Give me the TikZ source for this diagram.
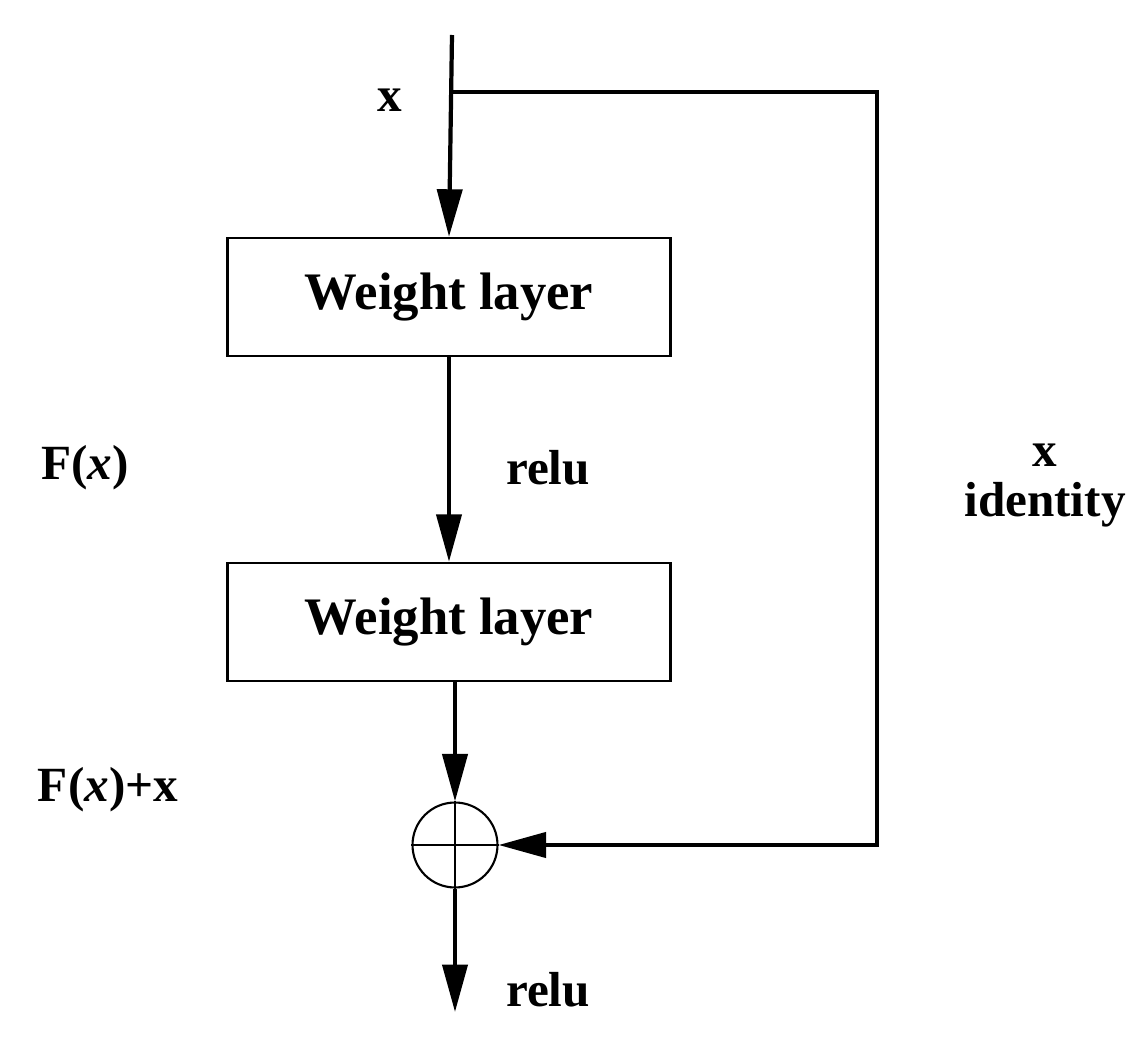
\documentclass[tikz,border=0pt]{standalone}
\usepackage{fontspec}
\setmainfont{Liberation Serif}
\usetikzlibrary{arrows.meta}
\begin{document}
\begin{tikzpicture}[x=0.02cm,y=-0.02cm,
        flow/.style={
            -{Triangle[length=0.95cm,width=0.5cm]},
            line width=2.4pt
        },
        layer/.style={
            draw,
            line width=1.4pt,
            minimum width=8.86cm,
            minimum height=2.36cm,
            font=\fontsize{30}{36}\selectfont\bfseries
        },
        lbl/.style={
            font=\fontsize{28}{34}\selectfont\bfseries
        }
    ]
        \useasboundingbox (0,0) rectangle (1134,1044);
        % Layers
        \node[layer] (wone) at (449,297) {Weight layer};
        \node[layer] (wtwo) at (449,622) {Weight layer};
        \node[circle, draw, line width=1.2pt, minimum size=1.7cm, inner sep=0pt] (sum) at (455,845) {};
        \draw[line width=1pt] (sum.north) -- (sum.south) (sum.west) -- (sum.east);
        \coordinate (start) at (452,35);
        \coordinate (branch) at (452,92);
        \coordinate (tr) at (877,92);
        \coordinate (br) at (877,845);
        \coordinate (out) at (455,1012);
        % Main path
        \draw[flow] (start) -- (wone.north);
        \draw[flow] (wone.south) -- (wtwo.north);
        \draw[flow] (wtwo.south -| sum.north) -- (sum.north);
        \draw[flow] (sum.south) -- (out);
        % Identity shortcut
        \draw[flow, line cap=rect] (branch) -- (tr) -- (br) -- (sum.east);
        % Labels
        \node[lbl] (lx) at (390,100) {x};
        \node[lbl] (lfx) at (85,468) {F(\textit{x})};
        \node[lbl] (lrelu) at (548,468) {relu};
        \node[lbl] (lix) at (1045,455) {x};
        \node[lbl] (lid) at (1045,505) {identity};
        \node[lbl] (lsum) at (108,790) {F(\textit{x})+x};
        \node[lbl] (lout) at (548,990) {relu};
\end{tikzpicture}
\end{document}
